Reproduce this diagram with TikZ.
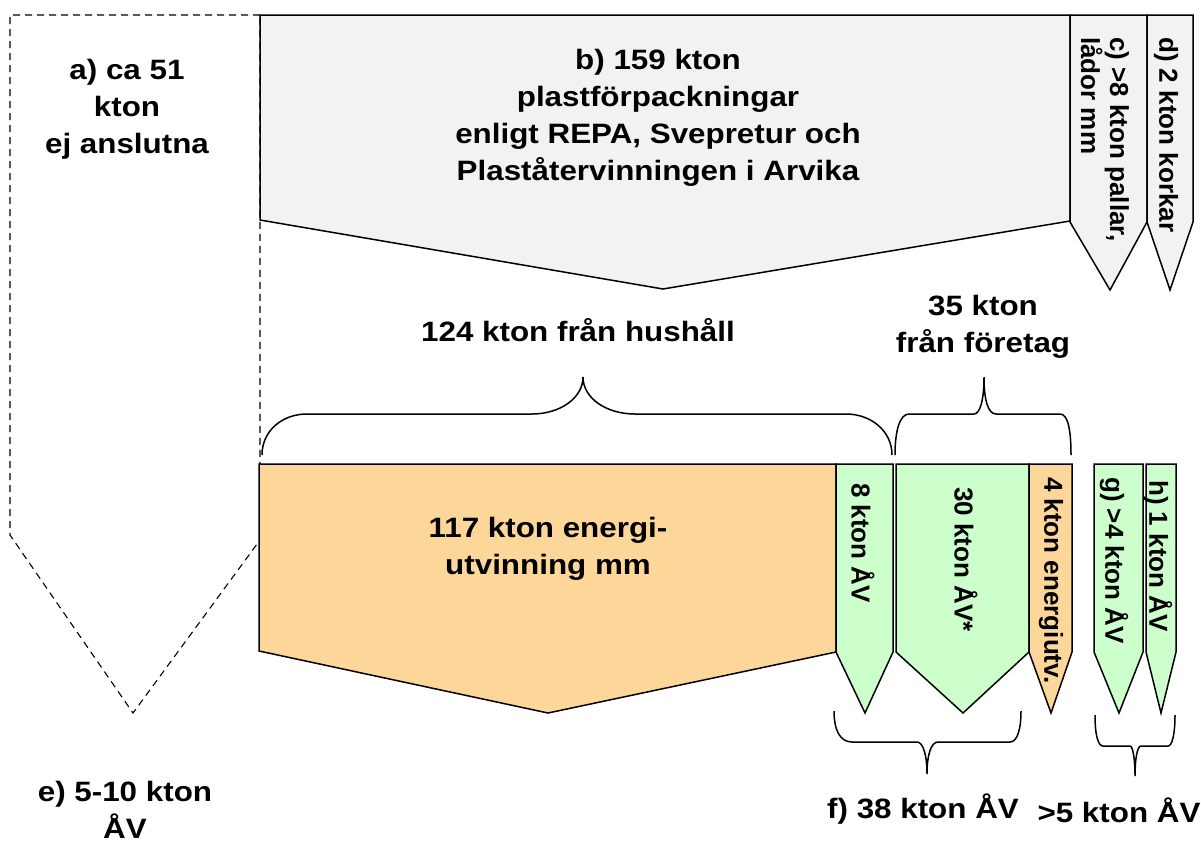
\documentclass[tikz,border=0pt]{standalone}
\usepackage{fontspec}
\setmainfont{Liberation Sans}[FakeStretch=1.12]
\newfontfamily\rotfont{Liberation Sans}

\definecolor{boxgray}{RGB}{242,242,242}
\definecolor{avgreen}{RGB}{204,255,204}
\definecolor{energyorange}{RGB}{253,214,153}

\begin{document}
\begin{tikzpicture}[
  x=1pt, y=-1pt,
  flow/.style={
    draw, line width=1.5pt, line join=miter
  },
  grayflow/.style={flow, fill=boxgray},
  greenflow/.style={flow, fill=avgreen},
  orangeflow/.style={flow, fill=energyorange},
  openflow/.style={
    draw, line width=1.1pt, dash pattern=on 7pt off 5pt
  },
  curly/.style={draw, line width=1.5pt},
  lbl/.style={
    font=\fontsize{28}{37}\selectfont\bfseries,
    align=center, inner sep=0pt
  },
  vlbl/.style={
    font=\rotfont\fontsize{26}{29}\selectfont\bfseries,
    rotate=-90, anchor=west, align=left, inner sep=0pt
  },
]

\useasboundingbox (0,0) rectangle (1201,844);

\def\top{15}
\def\rowb{464}
\def\cut{652}
\def\tip{713}

% not connected
\draw[openflow] (260,\top) -- (10,\top) -- (10,535) -- (133,\tip) -- (260,540) -- cycle;

% packaging put on the market
\draw[grayflow] (260,\top) -- (1070,\top) -- (1070,221) -- (663,289) -- (260,220) -- cycle;
\draw[grayflow] (1070,\top) -- (1147,\top) -- (1147,222) -- (1110,290) -- (1070,222) -- cycle;
\draw[grayflow] (1147,\top) -- (1193,\top) -- (1193,222) -- (1170,290) -- (1147,222) -- cycle;

% treatment
\draw[orangeflow] (259,\rowb) -- (836,\rowb) -- (836,\cut) -- (548,\tip) -- (259,651) -- cycle;
\draw[greenflow] (836,\rowb) -- (893,\rowb) -- (893,\cut) -- (865,\tip) -- (836,\cut) -- cycle;
\draw[greenflow] (896,\rowb) -- (1029,\rowb) -- (1029,\cut) -- (963,\tip) -- (896,\cut) -- cycle;
\draw[orangeflow] (1029,\rowb) -- (1072,\rowb) -- (1072,\cut) -- (1051,\tip) -- (1029,\cut) -- cycle;
\draw[greenflow] (1094,\rowb) -- (1143,\rowb) -- (1143,\cut) -- (1119,\tip) -- (1094,\cut) -- cycle;
\draw[greenflow] (1146,\rowb) -- (1176,\rowb) -- (1176,\cut) -- (1161,\tip) -- (1146,\cut) -- cycle;

% braces
\draw[curly] (262,455) .. controls (262,431) and (282,414) .. (307,414) -- (532,414)
  .. controls (560,414) and (583,398) .. (583,377) .. controls (583,398) and (606,414) .. (635,414)
  -- (846,414) .. controls (871,414) and (892,431) .. (892,455);
\draw[curly] (895,455) .. controls (895,430) and (900,414) .. (909,414) -- (974,414)
  .. controls (980,414) and (984,400) .. (984,377) .. controls (984,400) and (988,414) .. (996,414)
  -- (1060,414) .. controls (1068,414) and (1071,430) .. (1071,455);
\draw[curly] (834,711) .. controls (834,730) and (840,742) .. (852,742) -- (917,742)
  .. controls (923,742) and (927,755) .. (927,774) .. controls (927,755) and (931,742) .. (938,742)
  -- (1010,742) .. controls (1017,742) and (1021,730) .. (1021,711);
\draw[curly] (1095,715) .. controls (1095,735) and (1098,746) .. (1103,746) -- (1130,746)
  .. controls (1133,746) and (1135,760) .. (1135,776) .. controls (1135,760) and (1137,746) .. (1141,746)
  -- (1168,746) .. controls (1172,746) and (1175,735) .. (1175,715);

% labels
\node[lbl] (atext) at (127,109) {a) ca 51\\kton\\ej anslutna};
\node[lbl] (btext) at (658,118) {b) 159 kton\\plastförpackningar\\enligt REPA, Svepretur och\\Plaståtervinningen i Arvika};
\node[vlbl] (ctext) at (1105,37) {c) >8 kton pallar,\\lådor mm};
\node[vlbl] (dtext) at (1166,37) {d) 2 kton korkar};
\node[lbl, anchor=base] (hush) at (578,341) {124 kton från hushåll};
\node[lbl] (foretag) at (983,327) {35 kton\\från företag};
\node[lbl] (energi) at (548,549) {117 kton energi-\\utvinning mm};
\node[vlbl] (av8) at (863,483) {8 kton ÅV};
\node[vlbl] (av30) at (966,487) {30 kton ÅV*};
\node[vlbl] (energi4) at (1051,477) {4 kton energiutv.};
\node[vlbl] (gtext) at (1114,477) {g) >4 kton ÅV};
\node[vlbl] (htext) at (1158,480) {h) 1 kton ÅV};
\node[lbl, anchor=south] (etext) at (125,839) {e) 5-10 kton\\ÅV};
\node[lbl, anchor=base] (ftext) at (923,818) {f) 38 kton ÅV};
\node[lbl, anchor=base] (fivetext) at (1119,822) {>5 kton ÅV};

\end{tikzpicture}
\end{document}
